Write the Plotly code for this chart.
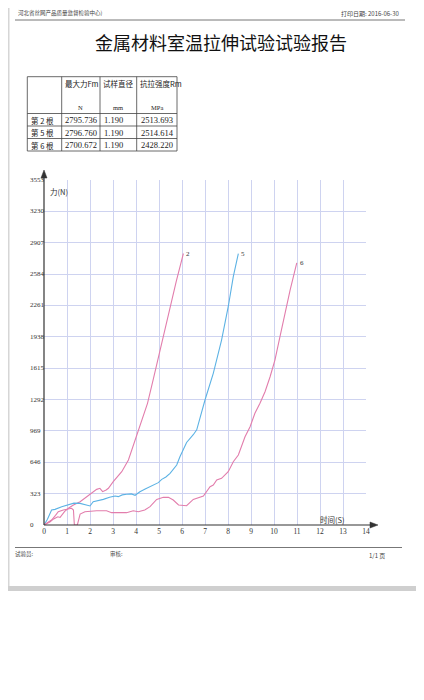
import plotly.graph_objects as go

# ---------------- data ----------------
t2 = [0, 0.15, 0.27, 0.4, 0.49, 0.6, 0.7, 0.77, 0.9, 1.06, 1.28, 1.57, 1.93, 2.1, 2.29, 2.43, 2.55, 2.7, 2.8,
      3.01, 3.2, 3.38, 3.67, 3.96, 4.2, 4.5, 4.75, 5.0, 5.25, 5.5, 5.75, 6.06]
F2 = [0, 15, 34, 60, 69, 85, 78, 103, 140, 172, 206, 240, 299, 330, 367, 378, 343, 360, 378,
      446, 495, 549, 669, 875, 1040, 1253, 1500, 1760, 2010, 2260, 2510, 2796]

t5 = [0, 0.15, 0.33, 0.48, 0.77, 1.06, 1.3, 1.57, 1.8, 2.0, 2.14, 2.35, 2.58, 2.85, 3.09, 3.23, 3.4, 3.59,
      3.8, 3.96, 4.17, 4.4, 4.61, 4.8, 4.97, 5.12, 5.3, 5.48, 5.77, 5.91, 6.2, 6.49, 6.64, 7.0, 7.36, 7.72,
      8.01, 8.23, 8.45]
F5 = [0, 60, 154, 161, 189, 213, 225, 223, 210, 196, 240, 250, 264, 285, 299, 292, 310, 316,
      320, 306, 343, 370, 395, 420, 436, 470, 495, 532, 618, 703, 850, 930, 980, 1287, 1562, 1905,
      2248, 2557, 2796]

t6 = [0, 0.2, 0.33, 0.5, 0.62, 0.84, 1.0, 1.2, 1.28, 1.3, 1.32, 1.45, 1.57, 1.78, 2.0, 2.29, 2.72, 2.94,
      3.2, 3.59, 3.88, 4.1, 4.38, 4.61, 4.9, 5.19, 5.41, 5.62, 5.85, 6.2, 6.49, 6.71, 6.93, 7.22, 7.36,
      7.51, 7.72, 8.01, 8.23, 8.45, 8.74, 8.96, 9.17, 9.39, 9.61, 9.83, 10.04, 10.26, 10.48, 10.7, 10.99]
F6 = [0, 30, 51, 100, 137, 154, 165, 172, 154, 60, 0, 0, 113, 137, 142, 147, 147, 127,
      127, 127, 147, 137, 154, 189, 264, 285, 285, 257, 206, 199, 264, 281, 299, 395, 412,
      463, 481, 549, 652, 721, 909, 1012, 1150, 1253, 1373, 1527, 1699, 1939, 2180, 2420, 2700]

series_names = ["2", "5", "6"]
x_ticks = list(range(0, 15))
y_ticks = [0, 323, 646, 969, 1292, 1615, 1938, 2261, 2584, 2907, 3230, 3553]

table_headers = ["最大力Fm", "试样直径", "抗拉强度Rm"]
table_units = ["N", "mm", "MPa"]
table_rows = ["第 2 根", "第 5 根", "第 6 根"]
table_fm = ["2795.736", "2796.760", "2700.672"]
table_d = ["1.190", "1.190", "1.190"]
table_rm = ["2513.693", "2514.614", "2428.220"]

title_text = "金属材料室温拉伸试验试验报告"
header_left = "河北省丝网产品质量监督检验中心)"
header_right = "打印日期: 2016-06-30"

# ---------------- layout helpers ----------------
# the page body adds an 8px offset, so the figure is drawn 8px smaller and
# every reference pixel position is mapped through the plot area below
OFF = 8
W, H = 424 - OFF, 700 - OFF
L, R, T, B = 44, 366, 180, 525   # plot area in reference pixels


def PX(x):
    return (x - L) / (R - L)


def PY(y):
    return (B - y) / (B - T)


PINK = "rgb(226,125,172)"
BLUE = "rgb(92,178,228)"
GRID = "rgb(206,211,240)"
AX = "#333333"
CJK = "Noto Sans CJK SC"
SERIF = "Liberation Serif"

fig = go.Figure()
for t, F, c, n in [(t2, F2, PINK, "2"), (t5, F5, BLUE, "5"), (t6, F6, PINK, "6")]:
    fig.add_trace(go.Scatter(x=t, y=F, mode="lines", line=dict(color=c, width=1.1),
                             name=n, showlegend=False, hoverinfo="skip"))

shapes = []
ann = []

# page scan borders
shapes.append(dict(type="rect", xref="paper", yref="paper", x0=PX(OFF), x1=PX(9.5), y0=PY(590), y1=PY(OFF),
                   fillcolor="#d6d6d6", line=dict(width=0), layer="below"))
shapes.append(dict(type="rect", xref="paper", yref="paper", x0=PX(417), x1=PX(424), y0=PY(590), y1=PY(OFF),
                   fillcolor="#cdcdcd", line=dict(width=0), layer="below"))
shapes.append(dict(type="rect", xref="paper", yref="paper", x0=PX(OFF), x1=PX(424), y0=PY(591), y1=PY(586),
                   fillcolor="#cfcfcf", line=dict(width=0), layer="below"))
# header / footer rules
shapes.append(dict(type="line", xref="paper", yref="paper", x0=PX(15), x1=PX(405), y0=PY(20), y1=PY(20),
                   line=dict(color="#777", width=1)))
shapes.append(dict(type="line", xref="paper", yref="paper", x0=PX(15), x1=PX(402), y0=PY(547.5), y1=PY(547.5),
                   line=dict(color="#777", width=1)))

# axes lines and arrows
shapes.append(dict(type="line", xref="paper", yref="paper", x0=0, x1=PX(372), y0=0, y1=0,
                   line=dict(color=AX, width=1.2)))
shapes.append(dict(type="line", xref="paper", yref="paper", x0=0, x1=0, y0=0, y1=PY(175),
                   line=dict(color=AX, width=1.2)))
shapes.append(dict(type="path", xref="paper", yref="paper",
                   path=f"M {PX(370)} {PY(522)} L {PX(378)} {PY(525)} L {PX(370)} {PY(528)} Z",
                   fillcolor=AX, line=dict(color=AX, width=0.5)))
shapes.append(dict(type="path", xref="paper", yref="paper",
                   path=f"M {PX(41)} {PY(178)} L {PX(44)} {PY(170)} L {PX(47)} {PY(178)} Z",
                   fillcolor=AX, line=dict(color=AX, width=0.5)))

# table lines
col_x = [27.3, 61.7, 100, 136.7, 177]
row_y = [76.7, 113.5, 126, 138.5, 151]
for x in col_x:
    shapes.append(dict(type="line", xref="paper", yref="paper", x0=PX(x), x1=PX(x), y0=PY(row_y[0]), y1=PY(row_y[-1]),
                       line=dict(color="#444", width=0.8)))
for y in row_y:
    shapes.append(dict(type="line", xref="paper", yref="paper", x0=PX(col_x[0]), x1=PX(col_x[-1]), y0=PY(y), y1=PY(y),
                       line=dict(color="#444", width=0.8)))


def text(s, x, y, size, anchor="left", color="#222", family=CJK):
    ann.append(dict(text=s, xref="paper", yref="paper", x=PX(x), y=PY(y), xanchor=anchor, yanchor="middle",
                    showarrow=False, font=dict(size=size, color=color, family=family)))


text(header_left, 16, 13, 5.5, color="#444")
text(header_right, 401, 13, 6, anchor="right", color="#444")
text(title_text, 221, 42, 18, anchor="center", color="#111")

for j, h in enumerate(table_headers):
    text(h, col_x[j + 1] + 1.2, 83.5, 7.5)
    text(table_units[j], (col_x[j + 1] + col_x[j + 2]) / 2, 107.5, 6.5, anchor="center", family=SERIF)
for i in range(3):
    yc = (row_y[i + 1] + row_y[i + 2]) / 2 + 0.3
    text(table_rows[i], 29, yc, 7.5)
    text(table_fm[i], col_x[1] + 1, yc, 8.5, family=SERIF)
    text(table_d[i], col_x[2] + 2, yc, 8.5, family=SERIF)
    text(table_rm[i], col_x[3] + 2, yc, 8.5, family=SERIF)

# y tick labels (left-aligned, as in the print)
for v in y_ticks:
    ann.append(dict(text=str(v), xref="paper", yref="y", x=PX(27.5), y=v, xanchor="left", yanchor="middle",
                    showarrow=False, font=dict(size=7, color=AX, family=SERIF)))

text("力(N)", 48, 191.5, 7.5, color="#333")
text("时间(S)", 318, 519.5, 7.5, color="#333")

# curve end labels
for t, F, n in [(t2, F2, series_names[0]), (t5, F5, series_names[1]), (t6, F6, series_names[2])]:
    ann.append(dict(text=n, x=t[-1], y=F[-1], xref="x", yref="y", xanchor="left", yanchor="middle",
                    xshift=1, showarrow=False, font=dict(size=7, color="#333", family=SERIF)))

# footer
text("试验员:", 13, 554, 5.5, color="#444")
text("审核:", 108, 554, 5.5, color="#444")
text("1/1 页", 367, 555, 6, color="#444")

fig.update_layout(
    width=W, height=H, autosize=False,
    margin=dict(l=L - OFF, r=W - (R - OFF), t=T - OFF, b=H - (B - OFF), pad=0),
    paper_bgcolor="white", plot_bgcolor="white",
    shapes=shapes, annotations=ann,
    xaxis=dict(range=[0, 14], tickvals=x_ticks, ticktext=[str(v) for v in x_ticks],
               showgrid=True, gridcolor=GRID, gridwidth=0.8, zeroline=False, showline=False,
               ticks="", tickfont=dict(size=7.5, color=AX, family=SERIF), fixedrange=True),
    yaxis=dict(range=[0, 3553], tickvals=y_ticks, showticklabels=False,
               showgrid=True, gridcolor=GRID, gridwidth=0.8, zeroline=False, showline=False,
               ticks="", fixedrange=True),
)

fig.write_html("out.html")
